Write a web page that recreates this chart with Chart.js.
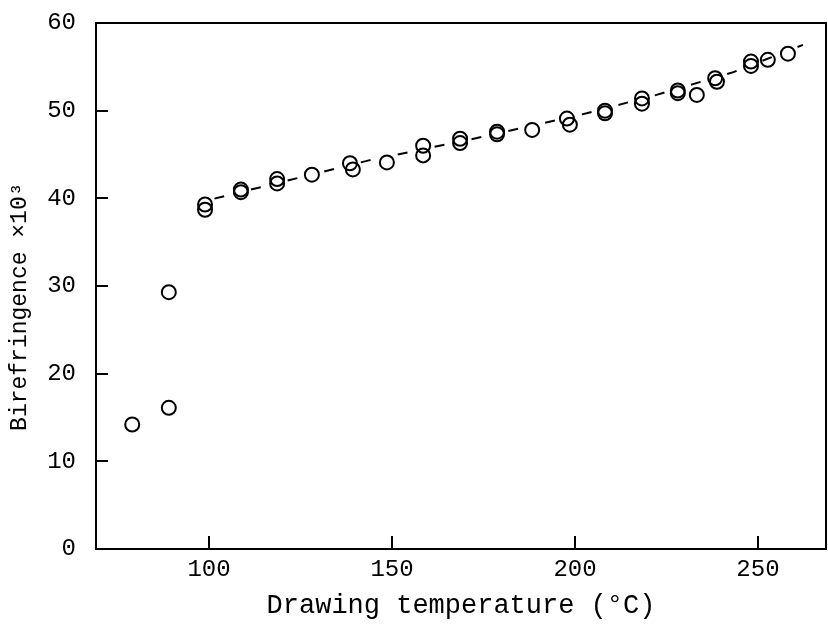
<!DOCTYPE html>
<html>
<head>
<meta charset="utf-8">
<script src="https://cdn.jsdelivr.net/npm/chart.js@4.4.0/dist/chart.umd.min.js"></script>
<style>
    html, body { margin: 0; padding: 0; background: #fff; }
    #wrap { width: 828px; height: 627px; }
</style>
</head>
<body>
<div id="wrap"><canvas id="chart"></canvas></div>
<script>
// measured points: drawing temperature (°C) vs birefringence (x10^3)
const temperatures = [79, 89, 89, 98.9, 98.9, 108.7, 108.7, 118.6, 118.6, 128.1, 138.5, 139.3,
    148.6, 158.5, 158.5, 168.6, 168.6, 178.7, 178.7, 188.3, 197.8, 198.6, 208.2, 208.2,
    218.3, 218.3, 228.1, 228.1, 233.3, 238.3, 238.8, 248.1, 248.1, 252.7, 258.2];
const birefringence = [14.2, 16.1, 29.3, 39.3, 38.7, 41.0, 40.7, 42.2, 41.7, 42.7, 44.0, 43.3,
    44.1, 46.0, 44.9, 46.8, 46.3, 47.6, 47.3, 47.8, 49.1, 48.4, 50.0, 49.7,
    51.4, 50.8, 52.3, 52.0, 51.8, 53.7, 53.3, 55.6, 55.1, 55.8, 56.5];

// dashed trend curve through the upper branch
const trendTemps = [98.9, 143.4, 173.5, 203.2, 222.3, 243.3, 262.3];
const trendValues = [39.7, 44.3, 46.9, 49.7, 51.8, 54.4, 57.5];

const xTicks = [100, 150, 200, 250];
const yTicks = [0, 10, 20, 30, 40, 50, 60];

const FONT = "'Liberation Mono', 'DejaVu Sans Mono', monospace";

// box around the plot plus ticks pointing inwards
const framePlugin = {
    id: 'frame',
    afterDraw(chart) {
        const { ctx, chartArea: a, scales } = chart;
        ctx.save();
        ctx.strokeStyle = '#000';
        ctx.lineWidth = 2;
        ctx.strokeRect(a.left, a.top, a.right - a.left, a.bottom - a.top);
        ctx.beginPath();
        xTicks.forEach(v => {
            const x = Math.round(scales.x.getPixelForValue(v));
            ctx.moveTo(x, a.bottom);
            ctx.lineTo(x, a.bottom - 13);
        });
        yTicks.forEach(v => {
            const y = Math.round(scales.y.getPixelForValue(v));
            ctx.moveTo(a.left, y);
            ctx.lineTo(a.left + 12, y);
        });
        ctx.stroke();
        ctx.restore();
    }
};

new Chart(document.getElementById('chart'), {
    type: 'scatter',
    data: {
        datasets: [
            {
                data: temperatures.map((t, i) => ({ x: t, y: birefringence[i] })),
                pointStyle: 'circle',
                pointRadius: 7,
                pointBorderWidth: 2,
                pointBorderColor: '#000',
                pointBackgroundColor: 'rgba(0,0,0,0)',
                showLine: false
            },
            {
                data: trendTemps.map((t, i) => ({ x: t, y: trendValues[i] })),
                showLine: true,
                pointRadius: 0,
                borderColor: '#000',
                borderWidth: 2,
                borderDash: [10, 27.7],
                borderDashOffset: 28
            }
        ]
    },
    options: {
        responsive: true,
        maintainAspectRatio: false,
        animation: false,
        layout: { padding: { top: 23, right: 2, left: 0, bottom: 0 }, autoPadding: false },
        plugins: { legend: { display: false }, tooltip: { enabled: false } },
        scales: {
            x: {
                type: 'linear',
                min: 69.1,
                max: 268.6,
                afterBuildTicks: scale => { scale.ticks = xTicks.map(v => ({ value: v })); },
                afterFit: scale => {
                    scale.height = 78;
                    scale.paddingLeft = 0;
                    scale.paddingRight = 0;
                },
                grid: { display: false, drawTicks: false },
                border: { display: false },
                ticks: { color: '#000', padding: 6, font: { family: FONT, size: 24 } },
                title: {
                    display: true,
                    text: 'Drawing temperature (°C)',
                    color: '#000',
                    padding: { top: 0, bottom: 5 },
                    font: { family: FONT, size: 27 }
                }
            },
            y: {
                min: 0,
                max: 60,
                afterBuildTicks: scale => { scale.ticks = yTicks.map(v => ({ value: v })); },
                afterFit: scale => {
                    scale.width = 96;
                    scale.paddingTop = 0;
                    scale.paddingBottom = 0;
                },
                grid: { display: false, drawTicks: false },
                border: { display: false },
                ticks: { color: '#000', padding: 20, font: { family: FONT, size: 24 } },
                title: {
                    display: true,
                    text: 'Birefringence ×10³   ',
                    color: '#000',
                    padding: { top: 6, bottom: 0 },
                    font: { family: FONT, size: 23 }
                }
            }
        }
    },
    plugins: [framePlugin]
});
</script>
</body>
</html>
